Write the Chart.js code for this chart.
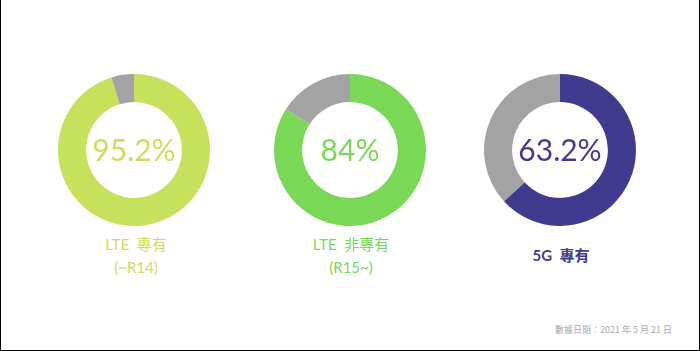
<!DOCTYPE html>
<html>
<head>
<meta charset="utf-8">
<script src="https://cdn.jsdelivr.net/npm/chart.js@4.4.1/dist/chart.umd.min.js"></script>
<style>
  html, body { margin: 0; padding: 0; background: #fff; }
  #frame {
    position: relative; width: 698px; height: 350px;
    border-left: 1px solid #000; border-right: 1px solid #000; border-bottom: 1px solid #000;
    font-family: "Lato", "Noto Sans CJK TC", sans-serif;
    overflow: hidden;
  }
  .box { position: absolute; top: 74px; width: 152px; height: 152px; }
  .label { position: absolute; width: 200px; text-align: center; font-size: 15px; line-height: 23px; }
  #note { position: absolute; right: 27px; top: 323px; font-size: 9px; color: #aaa; font-family: "Noto Sans CJK TC", sans-serif; }
</style>
</head>
<body>
<div id="frame">
  <div class="box" style="left:57px"><canvas id="c0"></canvas></div>
  <div class="box" style="left:273px"><canvas id="c1"></canvas></div>
  <div class="box" style="left:483px"><canvas id="c2"></canvas></div>
  <div class="label" id="l0" style="left:35px; top:233px"></div>
  <div class="label" id="l1" style="left:250px; top:233px"></div>
  <div class="label" id="l2" style="left:460px; top:244px; font-weight:bold"></div>
  <div id="note">數據日期：2021 年 5 月 21 日</div>
</div>
<script>
// data
const groups = ['LTE 專有', 'LTE 非專有', '5G 專有'];
const subLabels = ['(~R14)', '(R15~)', ''];
const shares = [95.2, 84, 63.2];
const others = [4.8, 16, 36.8];
const centerText = ['95.2%', '84%', '63.2%'];

// styles
const mainColors = ['#c6e15c', '#79d957', '#413b90'];
const restColor = '#a3a3a3';

const centerLabel = {
  id: 'centerLabel',
  afterDraw(chart, args, opts) {
    const c = chart.ctx;
    const meta = chart.getDatasetMeta(0).data[0];
    c.save();
    c.font = '400 30px Lato, sans-serif';
    c.fillStyle = opts.color;
    c.textAlign = 'center';
    c.textBaseline = 'middle';
    c.fillText(opts.text, meta.x, meta.y + 1);
    c.restore();
  }
};

groups.forEach((g, i) => {
  new Chart(document.getElementById('c' + i), {
    type: 'doughnut',
    data: {
      labels: [g, '其他'],
      datasets: [{
        data: [shares[i], others[i]],
        backgroundColor: [mainColors[i], restColor],
        borderWidth: 0
      }]
    },
    options: {
      responsive: true,
      maintainAspectRatio: false,
      animation: false,
      cutout: '63%',
      plugins: {
        legend: { display: false },
        tooltip: { enabled: false },
        centerLabel: { text: centerText[i], color: mainColors[i] }
      }
    },
    plugins: [centerLabel]
  });
  const el = document.getElementById('l' + i);
  el.style.color = mainColors[i];
  el.innerHTML = g.replace(' ', '&nbsp;&nbsp;') + (subLabels[i] ? '<br>' + subLabels[i] : '');
});
</script>
</body>
</html>
